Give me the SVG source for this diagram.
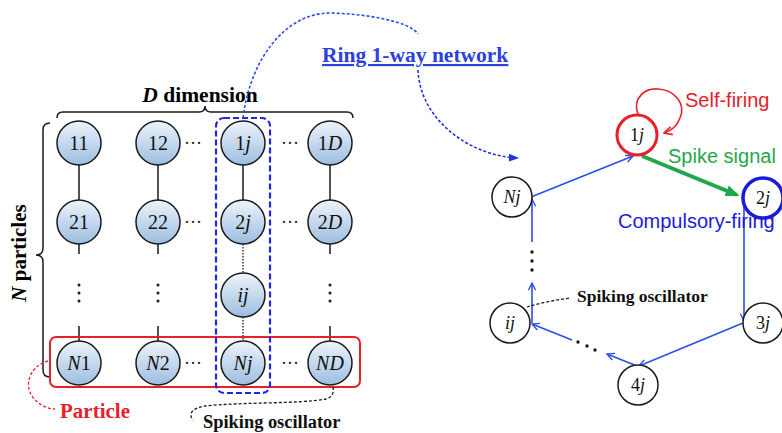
<svg xmlns="http://www.w3.org/2000/svg" width="782" height="433" viewBox="0 0 782 433">
<style>
.lbl{font-family:"Liberation Serif","DejaVu Serif",serif;font-size:20px;fill:#111;text-anchor:middle}
.rl{font-size:18px}
.it{font-style:italic}
.bold{font-family:"Liberation Serif","DejaVu Serif",serif;font-weight:bold}
.sans{font-family:"Liberation Sans","Noto Sans",sans-serif;font-size:20px}
.gn{fill:url(#g);stroke:#1a1a1a;stroke-width:1.5}
.wn{fill:#fff;stroke:#1a1a1a;stroke-width:1.5}
.ln{stroke:#1a1a1a;stroke-width:1.5;fill:none}
.dot{stroke:#1a1a1a;stroke-width:1.3;stroke-dasharray:1.5 1.5;fill:none}
.bl{stroke:#2a4fe8;stroke-width:1.6;fill:none}
</style>
<defs>
<linearGradient id="g" x1="0" y1="0" x2="0" y2="1">
<stop offset="0" stop-color="#eef4fb"/>
<stop offset="1" stop-color="#9cbde0"/>
</linearGradient>
<marker id="oa" viewBox="0 0 10 10" refX="9" refY="5" markerWidth="9" markerHeight="9" markerUnits="userSpaceOnUse" orient="auto">
<path d="M1,1 L9,5 L1,9" fill="none" stroke="#2a4fe8" stroke-width="1.5"/>
</marker>
<marker id="ra" viewBox="0 0 10 10" refX="9" refY="5" markerWidth="10" markerHeight="10" markerUnits="userSpaceOnUse" orient="auto">
<path d="M1,1 L9,5 L1,9" fill="none" stroke="#e8202a" stroke-width="1.6"/>
</marker>
<marker id="ga" viewBox="0 0 10 10" refX="8" refY="5" markerWidth="14" markerHeight="14" markerUnits="userSpaceOnUse" orient="auto">
<path d="M0,1 L10,5 L0,9 Z" fill="#1fa84a"/>
</marker>
<marker id="da" viewBox="0 0 10 10" refX="9" refY="5" markerWidth="10" markerHeight="10" markerUnits="userSpaceOnUse" orient="auto">
<path d="M0,1 L10,5 L0,9 Z" fill="#2430d8"/>
</marker>
</defs>

<!-- Braces and axis labels -->
<g id="dimension-label">
<path class="ln" d="M57,118 Q57,112 63,112 L199,112 Q205,112 205,106 Q205,112 211,112 L347,112 Q353,112 353,118"/>
<text class="bold" x="200" y="102" font-size="21.5" text-anchor="middle"><tspan font-style="italic">D</tspan> dimension</text>
</g>
<g id="particles-label">
<path class="ln" d="M50,123 Q43,123 43,130 L43,248 Q43,255 36,255 Q43,255 43,262 L43,370 Q43,377 50,377"/>
<text class="bold" x="0" y="0" font-size="21" text-anchor="middle" transform="translate(26,253) rotate(-90)"><tspan font-style="italic">N</tspan> particles</text>
</g>

<!-- Left grid connectors -->
<g id="grid-connectors">
<line class="ln" x1="79" y1="165" x2="79" y2="200"/>
<line class="ln" x1="158" y1="165" x2="158" y2="200"/>
<line class="ln" x1="243" y1="165" x2="243" y2="200"/>
<line class="ln" x1="330" y1="165" x2="330" y2="200"/>
<line class="ln" x1="79" y1="244" x2="79" y2="254"/>
<line class="ln" x1="158" y1="244" x2="158" y2="254"/>
<line class="ln" x1="330" y1="244" x2="330" y2="254"/>
<line class="ln" x1="79" y1="326" x2="79" y2="341"/>
<line class="ln" x1="158" y1="326" x2="158" y2="341"/>
<line class="ln" x1="330" y1="326" x2="330" y2="341"/>
<line class="dot" x1="243" y1="244" x2="243" y2="274"/>
<line class="dot" x1="243" y1="317" x2="243" y2="341"/>
</g>
<g id="grid-ellipses" fill="#1a1a1a" font-family="Liberation Serif,serif">
<text x="193" y="149" font-size="18" text-anchor="middle">···</text>
<text x="290" y="149" font-size="18" text-anchor="middle">···</text>
<text x="193" y="228" font-size="18" text-anchor="middle">···</text>
<text x="290" y="228" font-size="18" text-anchor="middle">···</text>
<text x="193" y="369" font-size="18" text-anchor="middle">···</text>
<text x="290" y="369" font-size="18" text-anchor="middle">···</text>
<circle cx="79" cy="285" r="1.5"/><circle cx="79" cy="293" r="1.5"/><circle cx="79" cy="301" r="1.5"/>
<circle cx="158" cy="285" r="1.5"/><circle cx="158" cy="293" r="1.5"/><circle cx="158" cy="301" r="1.5"/>
<circle cx="330" cy="285" r="1.5"/><circle cx="330" cy="293" r="1.5"/><circle cx="330" cy="301" r="1.5"/>
</g>

<!-- Left grid nodes -->
<g id="n11"><circle class="gn" cx="79" cy="143" r="22"/><text class="lbl" x="79" y="150">11</text></g>
<g id="n12"><circle class="gn" cx="158" cy="143" r="22"/><text class="lbl" x="158" y="150">12</text></g>
<g id="n1j"><circle class="gn" cx="243" cy="143" r="22"/><text class="lbl" x="243" y="150">1<tspan class="it">j</tspan></text></g>
<g id="n1D"><circle class="gn" cx="330" cy="143" r="22"/><text class="lbl" x="330" y="150">1<tspan class="it">D</tspan></text></g>
<g id="n21"><circle class="gn" cx="79" cy="222" r="22"/><text class="lbl" x="79" y="229">21</text></g>
<g id="n22"><circle class="gn" cx="158" cy="222" r="22"/><text class="lbl" x="158" y="229">22</text></g>
<g id="n2j"><circle class="gn" cx="243" cy="222" r="22"/><text class="lbl" x="243" y="229">2<tspan class="it">j</tspan></text></g>
<g id="n2D"><circle class="gn" cx="330" cy="222" r="22"/><text class="lbl" x="330" y="229">2<tspan class="it">D</tspan></text></g>
<g id="nij"><circle class="gn" cx="243" cy="295" r="22"/><text class="lbl it" x="243" y="302">ij</text></g>
<g id="nN1"><circle class="gn" cx="79" cy="363" r="22"/><text class="lbl" x="79" y="370"><tspan class="it">N</tspan>1</text></g>
<g id="nN2"><circle class="gn" cx="158" cy="363" r="22"/><text class="lbl" x="158" y="370"><tspan class="it">N</tspan>2</text></g>
<g id="nNj"><circle class="gn" cx="243" cy="363" r="22"/><text class="lbl it" x="243" y="370">Nj</text></g>
<g id="nND"><circle class="gn" cx="330" cy="363" r="22"/><text class="lbl it" x="330" y="370">ND</text></g>

<!-- Highlight boxes and callouts -->
<g id="particle-box">
<rect x="50" y="337" width="310" height="50" rx="6" fill="none" stroke="#e8202a" stroke-width="2"/>
<path d="M48,361 C30,366 24,384 32,396 C38,405 48,409 55,409" fill="none" stroke="#e8202a" stroke-width="1.3" stroke-dasharray="3 2"/>
<text class="bold" x="60" y="418" font-size="21" fill="#e8202a">Particle</text>
</g>
<g id="column-box">
<rect x="216" y="118" width="54" height="275" rx="8" fill="none" stroke="#2424e0" stroke-width="2.2" stroke-dasharray="6 3"/>
</g>
<g id="oscillator-callout">
<path d="M333,387 C334,392 333,397 326,399 C300,404 240,402 205,406 C192,408 188,414 193,420" fill="none" stroke="#1a1a1a" stroke-width="1.3" stroke-dasharray="3 2"/>
<text class="bold" x="203" y="428" font-size="18.4" fill="#111">Spiking oscillator</text>
</g>

<!-- Ring network link -->
<g id="ring-link">
<path d="M243,118 C250,60 285,13 330,13 C370,14 410,22 418,34" fill="none" stroke="#2a4fe8" stroke-width="1.6" stroke-dasharray="3 2"/>
<path d="M418,70 C420,120 470,156 518,158" fill="none" stroke="#2430d8" stroke-width="1.6" stroke-dasharray="3 2" marker-end="url(#da)"/>
<text class="bold" x="322" y="62" font-size="21.5" fill="#2a40e0" text-decoration="underline">Ring 1-way network</text>
</g>

<!-- Ring connectors -->
<g id="ring-connectors">
<line class="bl" x1="531" y1="197" x2="633" y2="156" marker-end="url(#oa)"/>
<line x1="642" y1="156" x2="737" y2="195" stroke="#1fa84a" stroke-width="4" marker-end="url(#ga)"/>
<line class="bl" x1="744" y1="203" x2="744" y2="321" marker-end="url(#oa)"/>
<line class="bl" x1="743" y1="323" x2="639" y2="366" marker-end="url(#oa)"/>
<line class="bl" x1="637" y1="366" x2="607" y2="354" marker-end="url(#oa)"/>
<line class="bl" x1="572" y1="340" x2="532" y2="324" marker-end="url(#oa)"/>
<line class="bl" x1="532" y1="323" x2="532" y2="283" marker-end="url(#oa)"/>
<line class="bl" x1="532" y1="242" x2="532" y2="199" marker-end="url(#oa)"/>
<path d="M638,114 C632,98 645,88 658,89 C676,90 686,105 680,118 C677,126 671,131 664,133" fill="none" stroke="#e8202a" stroke-width="1.6" marker-end="url(#ra)"/>
<g fill="#1a1a1a">
<circle cx="532" cy="252" r="1.7"/><circle cx="532" cy="261" r="1.7"/><circle cx="532" cy="270" r="1.7"/>
<circle cx="578" cy="342" r="1.7"/><circle cx="587" cy="346" r="1.7"/><circle cx="595" cy="350" r="1.7"/>
</g>
<path d="M527,307 C540,303 555,300 570,298" fill="none" stroke="#1a1a1a" stroke-width="1.3" stroke-dasharray="3 2"/>
</g>

<!-- Ring nodes -->
<g id="r1j"><circle cx="637" cy="135" r="20" fill="#fff" stroke="#e8202a" stroke-width="3"/><text class="lbl rl" x="637" y="141">1<tspan class="it">j</tspan></text></g>
<g id="r2j"><circle cx="763" cy="198" r="20" fill="#fff" stroke="#1a1ae0" stroke-width="3.5"/><text class="lbl rl" x="763" y="204">2<tspan class="it">j</tspan></text></g>
<g id="r3j"><circle class="wn" cx="763" cy="323" r="20"/><text class="lbl rl" x="763" y="329">3<tspan class="it">j</tspan></text></g>
<g id="r4j"><circle class="wn" cx="638" cy="385" r="20"/><text class="lbl rl" x="638" y="391">4<tspan class="it">j</tspan></text></g>
<g id="rij"><circle class="wn" cx="510" cy="323" r="20"/><text class="lbl rl it" x="510" y="329">ij</text></g>
<g id="rNj"><circle class="wn" cx="512" cy="197" r="20"/><text class="lbl rl it" x="512" y="203">Nj</text></g>

<!-- Ring labels -->
<g id="ring-labels">
<text class="sans" x="685" y="107" fill="#e8202a">Self-firing</text>
<text class="sans" x="668" y="163" fill="#1fa84a">Spike signal</text>
<text class="sans" x="618" y="228" fill="#1a1ae0">Compulsory-firing</text>
<text class="bold" x="577" y="302" font-size="17.5" fill="#111">Spiking oscillator</text>
</g>
</svg>
